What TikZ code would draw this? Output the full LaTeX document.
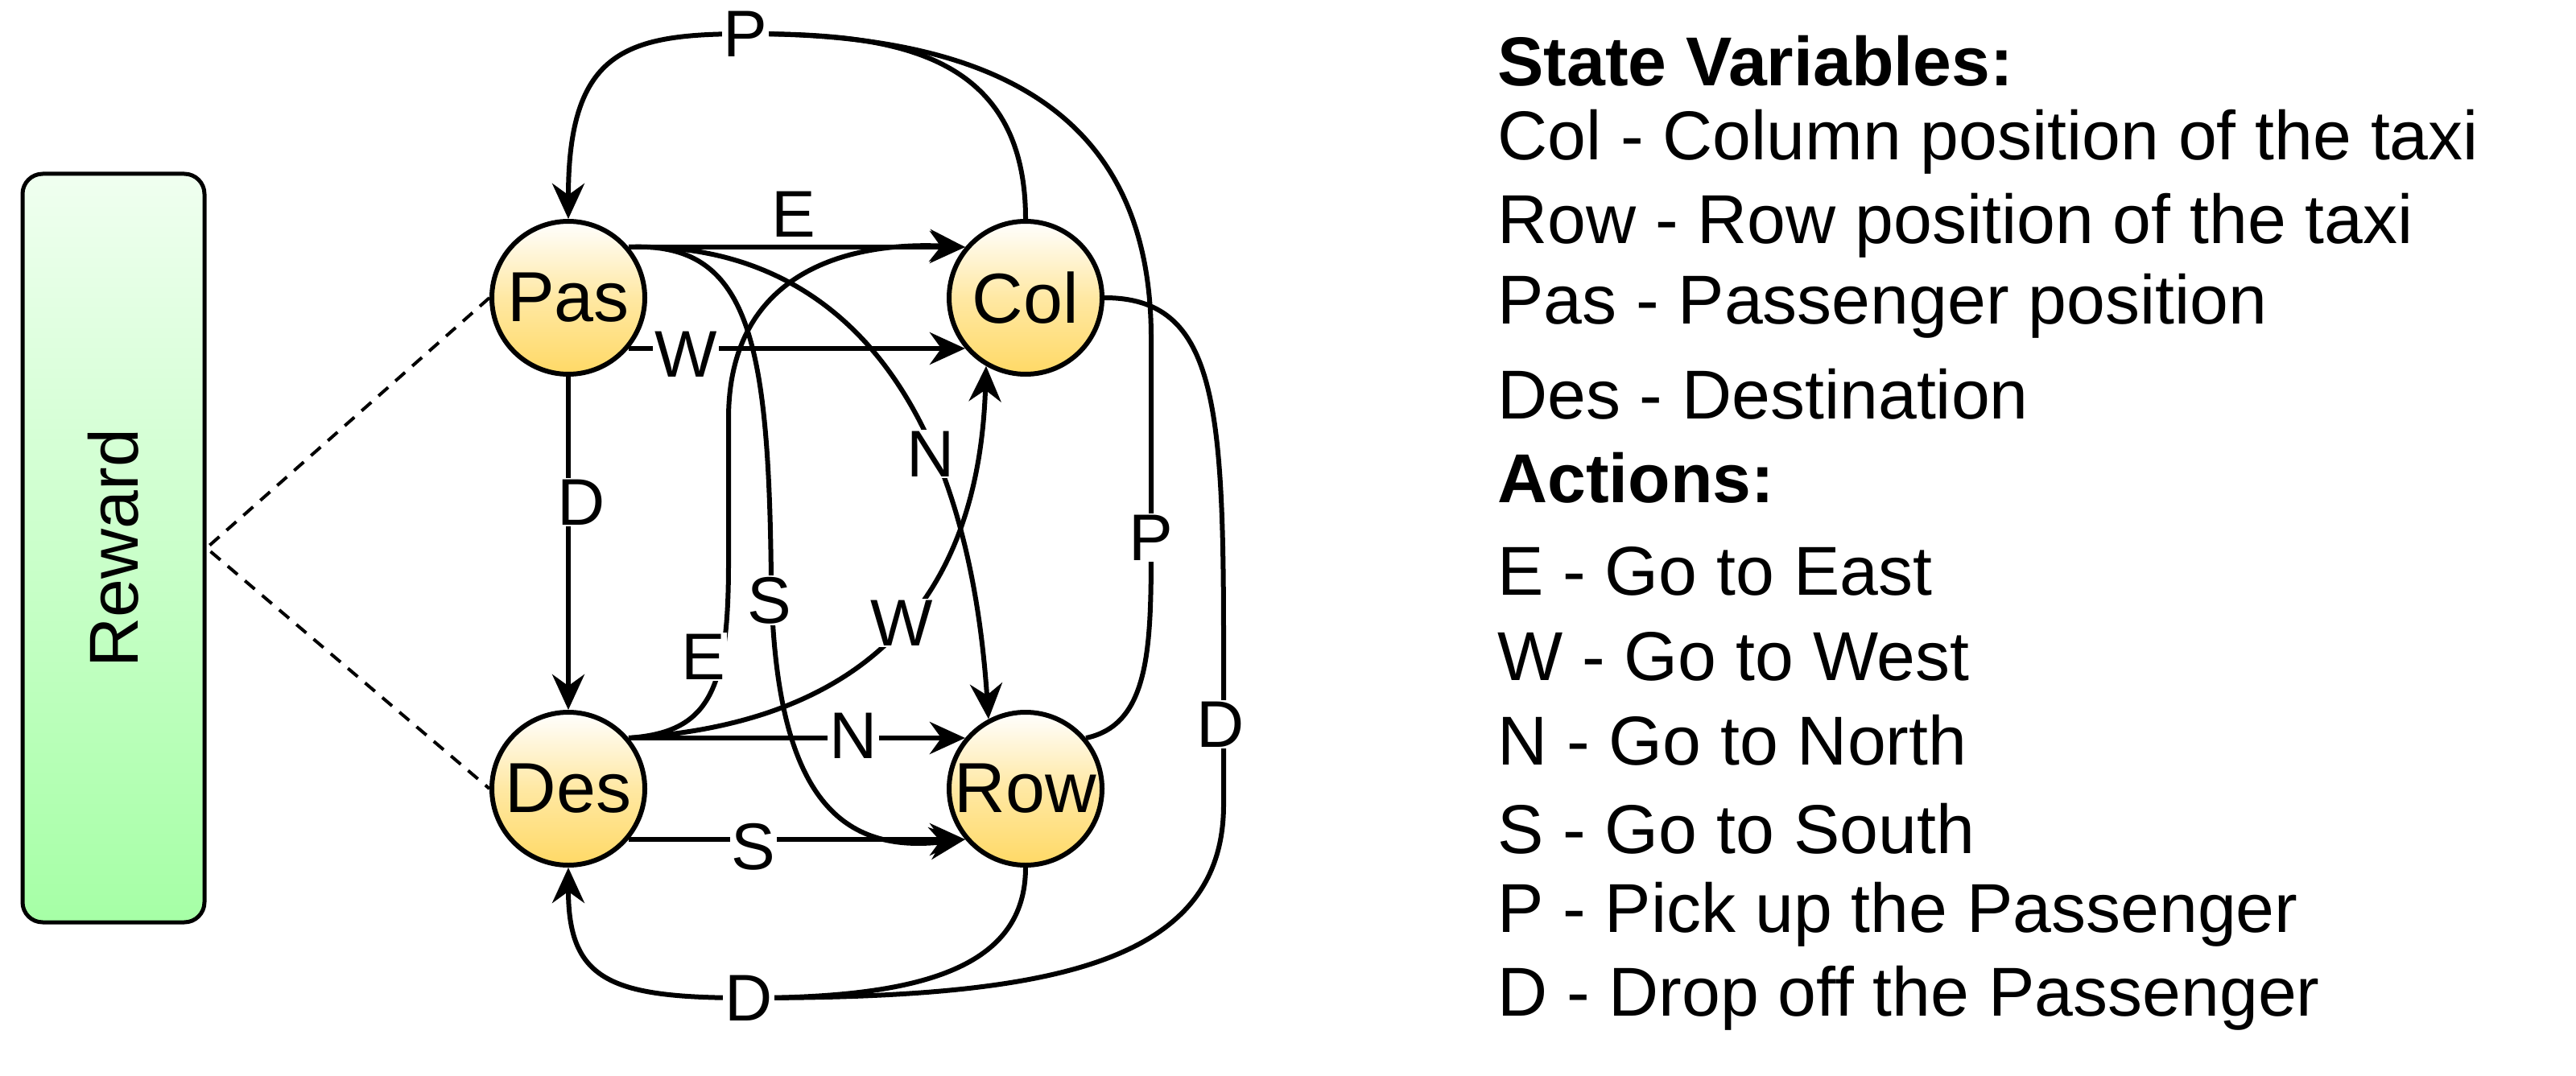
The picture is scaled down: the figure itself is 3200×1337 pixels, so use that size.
\documentclass[tikz,border=0pt]{standalone}
\usepackage{fontspec}
\setmainfont{Liberation Sans}
\usetikzlibrary{arrows.meta,shapes.geometric}
\definecolor{nodeb}{HTML}{FFD966}
\begin{document}
\begin{tikzpicture}[x=1pt,y=-1pt,
  st/.style={circle,draw=black,line width=6pt,minimum size=190pt,inner sep=0pt,
    top color=white,bottom color=nodeb,middle color=nodeb!60!white,font=\fontsize{88}{96}\selectfont},
  ed/.style={line width=6pt,-{Stealth[length=44pt,width=40pt]}},
  pl/.style={line width=6pt},
  lb/.style={fill=white,inner sep=2pt,font=\fontsize{82}{90}\selectfont},
  tx/.style={anchor=west,font=\fontsize{86}{96}\selectfont,inner sep=0pt}]
\useasboundingbox (0,0) rectangle (3200,1337);
\node[draw=black,line width=5pt,rounded corners=25pt,minimum width=226pt,minimum height=930pt,
  top color=green!6,bottom color=green!35] (rew) at (141,681) {};
\node[rotate=90,font=\fontsize{86}{96}\selectfont] at (rew) {Reward};
\node[st] (pas) at (706,370) {Pas};
\node[st] (col) at (1274,370) {Col};
\node[st] (des) at (706,980) {Des};
\node[st] (row) at (1274,980) {Row};
\draw[dashed,line width=4pt,dash pattern=on 16pt off 12pt] (pas.west) -- (rew.east) -- (des.west);
% straight
\draw[ed] (pas.40) -- (col.140);
\draw[ed] (pas.-40) -- (col.-140);
\draw[ed] (des.40) -- (row.140);
\draw[ed] (des.-40) -- (row.-140);
\draw[ed] (pas) -- (des);
\node[lb] (le1) at (986,266) {E};
\node[lb] (lw1) at (852,440) {W};
\node[lb] (ld1) at (722,624) {D};
\node[lb] (ln2) at (1060,914) {N};
\node[lb] (ls2) at (936,1052) {S};
% curves
\draw[ed] (pas.40) .. controls (1030,300) and (1200,480) .. (row.118);
\node[lb] (ln1) at (1156,564) {N};
\draw[ed] (pas.40) .. controls (930,300) and (955,420) .. (958,720) .. controls (962,1000) and (1050,1060) .. (row.-140);
\node[lb] (ls1) at (956,746) {S};
\draw[ed] (des.40) .. controls (880,910) and (905,860) .. (905,700) -- (905,520) .. controls (905,340) and (1050,300) .. (col.140);
\node[lb] (le2) at (874,816) {E};
\draw[ed] (des.40) .. controls (1060,900) and (1215,760) .. (col.-120);
\node[lb] (lw2) at (1120,774) {W};
% top P
\draw[pl] (col.north) .. controls (1274,60) and (1100,42) .. (930,42);
\draw[pl] (row.40) .. controls (1430,900) and (1430,800) .. (1430,670) -- (1430,420) .. controls (1430,150) and (1250,42) .. (930,42);
\draw[ed] (930,42) .. controls (780,42) and (706,60) .. (pas.north);
\node[lb] (lp1) at (926,42) {P};
\node[lb] (lp2) at (1430,668) {P};
% bottom D
\draw[pl] (col.east) .. controls (1510,370) and (1520,500) .. (1520,800) -- (1520,1000) .. controls (1520,1200) and (1300,1240) .. (930,1240);
\draw[pl] (row.south) .. controls (1274,1200) and (1150,1240) .. (930,1240);
\draw[ed] (930,1240) .. controls (760,1240) and (706,1220) .. (des.south);
\node[lb] (ld3) at (1516,900) {D};
\node[lb] (ld2) at (930,1240) {D};
% legend
\node[tx,font=\fontsize{86}{96}\selectfont\bfseries] at (1860,76) {State Variables:};
\node[tx] at (1860,176) {Col - Column position of the taxi};
\node[tx] at (1860,280) {Row - Row position of the taxi};
\node[tx] at (1860,380) {Pas - Passenger position};
\node[tx] at (1860,490) {Des - Destination};
\node[tx,font=\fontsize{86}{96}\selectfont\bfseries] at (1860,594) {Actions:};
\node[tx] at (1860,710) {E - Go to East};
\node[tx] at (1860,816) {W - Go to West};
\node[tx] at (1860,920) {N - Go to North};
\node[tx] at (1860,1030) {S - Go to South};
\node[tx] at (1860,1136) {P - Pick up the Passenger};
\node[tx] at (1860,1240) {D - Drop off the Passenger};
\end{tikzpicture}
\end{document}
